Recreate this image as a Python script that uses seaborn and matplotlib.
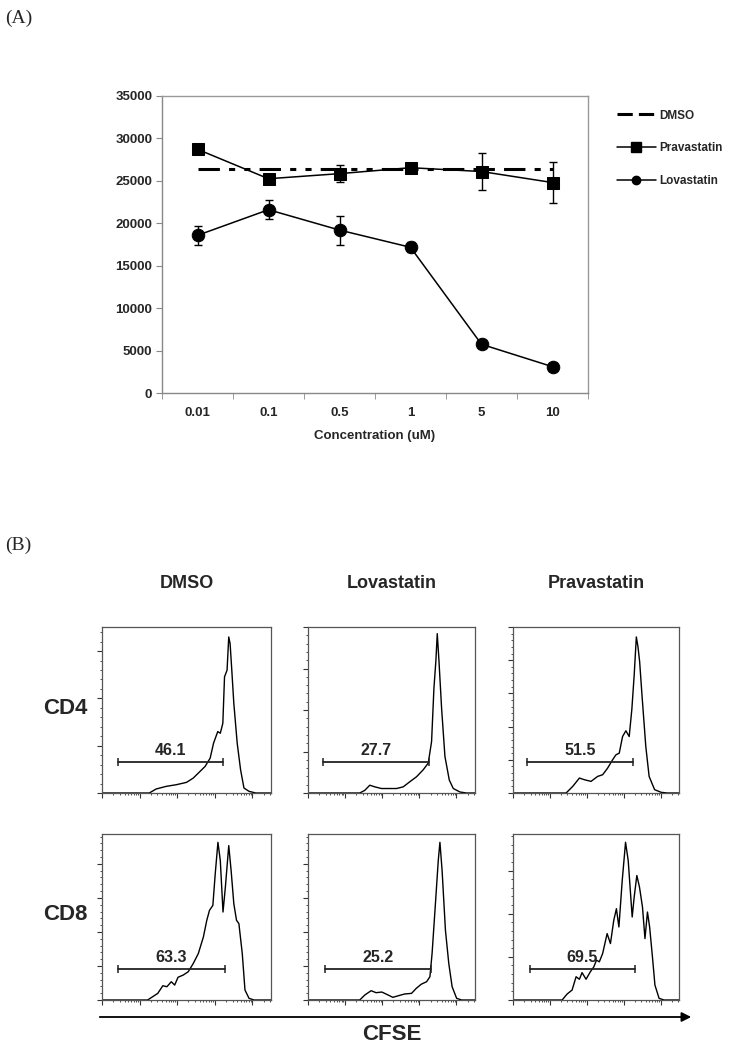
import numpy as np
import pandas as pd
import matplotlib
matplotlib.use("Agg")
import matplotlib.pyplot as plt
from matplotlib.ticker import FixedLocator, MultipleLocator, NullFormatter
from matplotlib.lines import Line2D
import seaborn as sns

sns.set_style("white")
plt.rcParams['font.family'] = ['Liberation Sans', 'DejaVu Sans']

# ── Panel A data ─────────────────────────────────────────────
conc_labels = ["0.01", "0.1", "0.5", "1", "5", "10"]
dmso = [26400, 26400, 26400, 26400, 26400, 26400]
prava = [28720, 25250, 25850, 26550, 26100, 24800]
prava_err = [0, 0, 1000, 200, 2150, 2400]
lova = [18580, 21600, 19200, 17170, 5740, 3100]
lova_err = [1150, 1100, 1700, 600, 0, 0]
yticks_a = [0, 5000, 10000, 15000, 20000, 25000, 30000, 35000]

# ── Panel B data (x: position on 4.5-decade log scale, 0-1; y: relative count) ──
treatments = ["DMSO", "Lovastatin", "Pravastatin"]
cells = ["CD4", "CD8"]

cd4_dmso_x = [0.0, 0.28, 0.32, 0.38, 0.44, 0.50, 0.54, 0.58, 0.61, 0.64, 0.66, 0.685,
              0.70, 0.715, 0.725, 0.74, 0.75, 0.758, 0.768, 0.78, 0.80, 0.82, 0.84,
              0.87, 0.91, 1.0]
cd4_dmso_y = [0.0, 0.0, 0.024, 0.04, 0.05, 0.064, 0.09, 0.13, 0.16, 0.21, 0.30, 0.37,
              0.36, 0.42, 0.70, 0.74, 0.94, 0.90, 0.74, 0.54, 0.30, 0.14, 0.03,
              0.01, 0.0, 0.0]

cd4_lova_x = [0.0, 0.31, 0.34, 0.37, 0.40, 0.44, 0.49, 0.53, 0.57, 0.61, 0.65, 0.69,
              0.72, 0.74, 0.754, 0.766, 0.774, 0.784, 0.80, 0.82, 0.846, 0.87, 0.91,
              0.95, 1.0]
cd4_lova_y = [0.0, 0.0, 0.016, 0.047, 0.037, 0.027, 0.027, 0.027, 0.037, 0.068, 0.098,
              0.14, 0.18, 0.31, 0.63, 0.80, 0.96, 0.80, 0.51, 0.22, 0.078, 0.027,
              0.006, 0.0, 0.0]

cd4_prava_x = [0.0, 0.32, 0.36, 0.40, 0.43, 0.47, 0.51, 0.54, 0.57, 0.60, 0.62, 0.64,
               0.66, 0.68, 0.70, 0.716, 0.73, 0.743, 0.753, 0.763, 0.777, 0.80, 0.82,
               0.853, 0.893, 0.93, 1.0]
cd4_prava_y = [0.0, 0.0, 0.04, 0.09, 0.08, 0.07, 0.10, 0.11, 0.15, 0.20, 0.23, 0.24,
               0.34, 0.375, 0.34, 0.505, 0.71, 0.94, 0.88, 0.79, 0.59, 0.28, 0.10,
               0.02, 0.004, 0.0, 0.0]

cd8_dmso_x = [0.0, 0.27, 0.30, 0.33, 0.36, 0.384, 0.41, 0.43, 0.45, 0.48, 0.51, 0.54,
              0.57, 0.60, 0.62, 0.636, 0.656, 0.67, 0.686, 0.70, 0.716, 0.73, 0.75,
              0.764, 0.78, 0.796, 0.81, 0.83, 0.846, 0.87, 0.90, 1.0]
cd8_dmso_y = [0.0, 0.0, 0.02, 0.04, 0.086, 0.08, 0.11, 0.09, 0.137, 0.15, 0.17, 0.22,
              0.28, 0.38, 0.48, 0.54, 0.57, 0.76, 0.95, 0.84, 0.53, 0.68, 0.93,
              0.78, 0.58, 0.48, 0.46, 0.28, 0.06, 0.01, 0.0, 0.0]

cd8_lova_x = [0.0, 0.31, 0.34, 0.378, 0.408, 0.442, 0.48, 0.508, 0.542, 0.578, 0.62,
              0.648, 0.678, 0.71, 0.73, 0.743, 0.763, 0.78, 0.79, 0.803, 0.823, 0.843,
              0.863, 0.89, 0.92, 1.0]
cd8_lova_y = [0.0, 0.0, 0.03, 0.056, 0.044, 0.048, 0.03, 0.016, 0.026, 0.036, 0.04,
              0.07, 0.095, 0.11, 0.14, 0.28, 0.58, 0.84, 0.95, 0.78, 0.42, 0.22,
              0.08, 0.01, 0.0, 0.0]

cd8_prava_x = [0.0, 0.296, 0.326, 0.356, 0.38, 0.40, 0.416, 0.44, 0.466, 0.487, 0.503,
               0.52, 0.54, 0.567, 0.587, 0.607, 0.623, 0.638, 0.658, 0.678, 0.694,
               0.718, 0.73, 0.746, 0.762, 0.78, 0.795, 0.81, 0.823, 0.84, 0.855, 0.88,
               0.91, 1.0]
cd8_prava_y = [0.0, 0.0, 0.036, 0.06, 0.14, 0.125, 0.165, 0.125, 0.17, 0.20, 0.24,
               0.23, 0.28, 0.40, 0.34, 0.48, 0.55, 0.44, 0.72, 0.95, 0.84,
               0.50, 0.62, 0.75, 0.68, 0.56, 0.37, 0.53, 0.44, 0.26, 0.09, 0.01,
               0.0, 0.0]

gate_pct = {("CD4", "DMSO"): "46.1", ("CD4", "Lovastatin"): "27.7", ("CD4", "Pravastatin"): "51.5",
            ("CD8", "DMSO"): "63.3", ("CD8", "Lovastatin"): "25.2", ("CD8", "Pravastatin"): "69.5"}
gate_range = {("CD4", "DMSO"): (0.094, 0.715), ("CD4", "Lovastatin"): (0.09, 0.726),
              ("CD4", "Pravastatin"): (0.086, 0.72), ("CD8", "DMSO"): (0.096, 0.726),
              ("CD8", "Lovastatin"): (0.10, 0.735), ("CD8", "Pravastatin"): (0.10, 0.734)}

curves = {("CD4", "DMSO"): (cd4_dmso_x, cd4_dmso_y),
          ("CD4", "Lovastatin"): (cd4_lova_x, cd4_lova_y),
          ("CD4", "Pravastatin"): (cd4_prava_x, cd4_prava_y),
          ("CD8", "DMSO"): (cd8_dmso_x, cd8_dmso_y),
          ("CD8", "Lovastatin"): (cd8_lova_x, cd8_lova_y),
          ("CD8", "Pravastatin"): (cd8_prava_x, cd8_prava_y)}

# y tick spacing differs per panel (FACS software autoscale)
ystep = {("CD4", "DMSO"): 0.285, ("CD4", "Lovastatin"): 0.25, ("CD4", "Pravastatin"): 0.2,
         ("CD8", "DMSO"): 0.205, ("CD8", "Lovastatin"): 0.205, ("CD8", "Pravastatin"): 0.26}

W, H = 732, 1050
fig = plt.figure(figsize=(W / 100, H / 100), dpi=100)


def box(l, t, r, b):
    return [l / W, 1 - b / H, (r - l) / W, (b - t) / H]


# ── Panel A ──────────────────────────────────────────────────
ax = fig.add_axes(box(162, 96, 588, 393))
pos = np.arange(len(conc_labels))
df = pd.DataFrame({"pos": np.tile(pos, 3),
                   "val": dmso + prava + lova,
                   "series": ["DMSO"] * 6 + ["Pravastatin"] * 6 + ["Lovastatin"] * 6})

sns.lineplot(data=df[df.series == "DMSO"], x="pos", y="val", ax=ax, color="black",
             lw=2.2, linestyle=(0, (7, 3, 2, 3, 2, 3)), legend=False)
ax.errorbar(pos, prava, yerr=prava_err, fmt="none", ecolor="black", elinewidth=1, capsize=3)
ax.errorbar(pos, lova, yerr=lova_err, fmt="none", ecolor="black", elinewidth=1, capsize=3)
sns.lineplot(data=df[df.series == "Pravastatin"], x="pos", y="val", ax=ax, color="black",
             lw=1.1, marker="s", markersize=8, markeredgecolor="black", legend=False)
sns.lineplot(data=df[df.series == "Lovastatin"], x="pos", y="val", ax=ax, color="black",
             lw=1.1, marker="o", markersize=9, markeredgecolor="black", legend=False)

ax.set_xlim(-0.5, len(conc_labels) - 0.5)
ax.set_ylim(0, 35000)
ax.set_yticks(yticks_a)
ax.set_yticklabels([str(v) for v in yticks_a], fontsize=9.5, fontweight="bold")
ax.set_xticks(pos)
ax.set_xticklabels(conc_labels, fontsize=9.5, fontweight="bold")
ax.xaxis.set_minor_locator(FixedLocator(np.arange(-0.5, len(conc_labels), 1.0)))
ax.tick_params(axis="x", which="major", length=0, pad=10)
ax.tick_params(axis="x", which="minor", length=4, color="#888888", direction="out", bottom=True)
ax.tick_params(axis="y", length=4, color="#888888", direction="out", left=True, pad=3)
ax.set_xlabel("Concentration (uM)", fontsize=9.5, fontweight="bold", labelpad=8)
ax.set_ylabel("")
for s in ["top", "right"]:
    ax.spines[s].set_color("#999999")
for s in ["left", "bottom"]:
    ax.spines[s].set_color("#888888")
for s in ax.spines.values():
    s.set_linewidth(1)

handles = [Line2D([], [], color="black", lw=2.2, linestyle=(0, (5, 2, 5, 4, 2, 2))),
           Line2D([], [], color="black", lw=1.1, marker="s", markersize=7),
           Line2D([], [], color="black", lw=1.1, marker="o", markersize=6)]
fig.legend(handles, ["DMSO", "Pravastatin", "Lovastatin"], loc="upper left",
           bbox_to_anchor=(606 / W, 1 - 99 / H), frameon=False, handlelength=3.3,
           handletextpad=0.3, labelspacing=1.75, prop={"size": 8.5, "weight": "bold"})

fig.text(5 / W, 1 - 18 / H, "(A)", fontsize=14, family="Liberation Serif", va="center")
fig.text(5 / W, 1 - 545 / H, "(B)", fontsize=14, family="Liberation Serif", va="center")

# ── Panel B ──────────────────────────────────────────────────
col_lr = [(102, 271), (308, 475), (513, 679)]
row_tb = [(627, 793), (834, 1000)]
decades = 4.5
major_x = [d / decades for d in range(0, 5)]
minor_x = [np.log10(k * 10 ** d) / decades for d in range(0, 5) for k in range(2, 10)
           if np.log10(k * 10 ** d) / decades < 1]

for i, cell in enumerate(cells):
    for j, tr in enumerate(treatments):
        l, r = col_lr[j]
        t, b = row_tb[i]
        hx = fig.add_axes(box(l, t, r, b))
        xs, ys = curves[(cell, tr)]
        sns.lineplot(x=xs, y=ys, ax=hx, color="black", lw=1.0, sort=False)
        g0, g1 = gate_range[(cell, tr)]
        hx.plot([g0, g1], [0.185, 0.185], color="#222222", lw=1.3, marker="|",
                markersize=6, markeredgewidth=1.1)
        hx.text((g0 + g1) / 2, 0.21, gate_pct[(cell, tr)], ha="center", va="bottom",
                fontsize=11.5, fontweight="bold")
        hx.set_xlim(0, 1)
        hx.set_ylim(0, 1)
        hx.xaxis.set_major_locator(FixedLocator(major_x))
        hx.xaxis.set_minor_locator(FixedLocator(minor_x))
        st = ystep[(cell, tr)]
        hx.yaxis.set_major_locator(MultipleLocator(st))
        hx.yaxis.set_minor_locator(MultipleLocator(st / 5))
        hx.xaxis.set_major_formatter(NullFormatter())
        hx.yaxis.set_major_formatter(NullFormatter())
        hx.tick_params(which="major", length=3.5, width=0.8, direction="out",
                       left=True, bottom=True, color="#333333")
        hx.tick_params(which="minor", length=1.5, width=0.6, direction="out",
                       left=True, bottom=True, color="#333333")
        for s in hx.spines.values():
            s.set_color("#555555")
            s.set_linewidth(0.9)

for j, tr in enumerate(treatments):
    l, r = col_lr[j]
    fig.text((l + r) / 2 / W, 1 - 583 / H, tr, ha="center", va="center",
             fontsize=13, fontweight="bold")
for i, cell in enumerate(cells):
    t, b = row_tb[i]
    fig.text(65 / W, 1 - ((t + b) / 2 - 2) / H, cell, ha="center", va="center",
             fontsize=16, fontweight="bold")

fig.add_artist(matplotlib.patches.FancyArrowPatch(
    (97 / W, 1 - 1017 / H), (694 / W, 1 - 1017 / H), transform=fig.transFigure,
    arrowstyle="-|>", mutation_scale=14, color="black", lw=1.3))
fig.text(392 / W, 1 - 1035 / H, "CFSE", ha="center", va="center",
         fontsize=16, fontweight="bold")

fig.savefig("out.png", dpi=100)
